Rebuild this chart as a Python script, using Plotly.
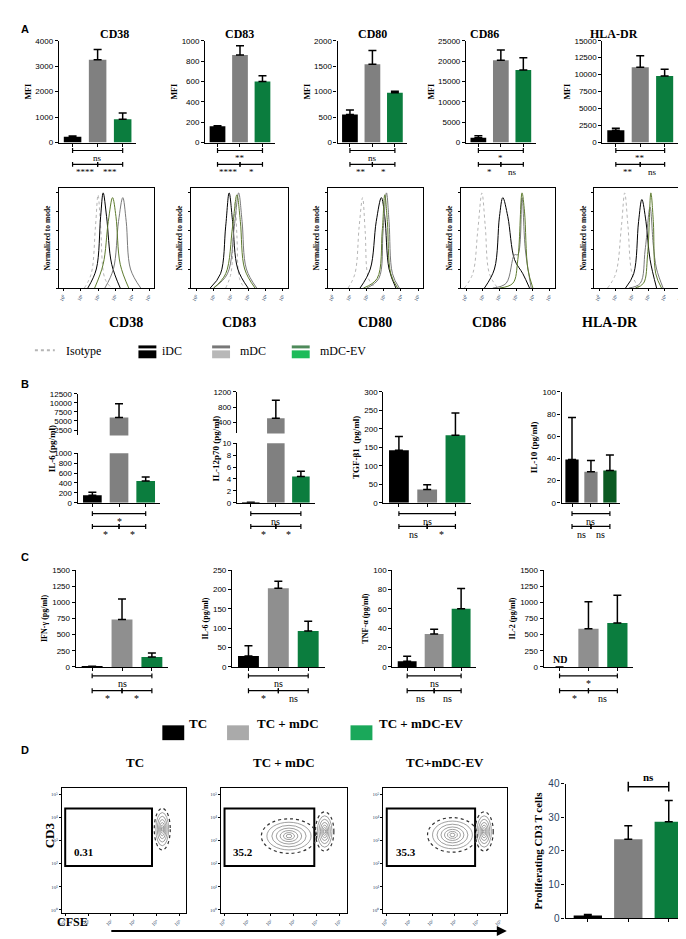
import plotly.graph_objects as go

W, H = 686, 939
FONT = "Liberation Serif"
BLACK, GRAY, GREEN = "#000000", "#808080", "#0b7d3e"
GRAYC = "#8f8f8f"

# ---------- data ----------
A_markers = ["CD38", "CD83", "CD80", "CD86", "HLA-DR"]
A_means = [[230, 3250, 920], [160, 860, 600], [550, 1540, 980], [1200, 20200, 17800], [1800, 11100, 9800]]
A_err = [[30, 400, 240], [5, 90, 55], [90, 270, 30], [500, 2500, 3000], [300, 1700, 1000]]
A_ymax = [4000, 1000, 2000, 25000, 15000]
A_dtick = [1000, 200, 500, 5000, 2500]
A_sig = [("ns", "****", "***"), ("**", "****", "*"), ("ns", "**", "*"), ("*", "*", "ns"), ("**", "**", "ns")]

B_labels = ["IL-6 (pg/ml)", "IL-12p70 (pg/ml)", "TGF-β1  (pg/ml)", "IL-10 (pg/ml)"]
B_means = [[150, 6000, 440], [0.05, 500, 4.4], [142, 36, 183], [39, 28, 29]]
B_err = [[60, 3800, 80], [0.05, 480, 0.9], [37, 13, 60], [38, 10, 14]]
B_sig = [("*", "*", "*"), ("ns", "*", "*"), ("ns", "ns", "*"), ("ns", "ns", "ns")]

C_labels = ["IFN-γ (pg/ml)", "IL-6 (pg/ml)", "TNF-α (pg/ml)", "IL-2 (pg/ml)"]
C_means = [[5, 735, 155], [28, 203, 93], [6, 34, 60], [0, 590, 680]]
C_err = [[5, 315, 60], [27, 18, 25], [5, 5, 21], [0, 420, 430]]
C_ymax = [1500, 250, 100, 1500]
C_dtick = [250, 50, 20, 250]
C_sig = [("ns", "*", "*"), ("ns", "*", "ns"), ("ns", "ns", "ns"), ("*", "*", "ns")]

D_means = [0.8, 23.5, 28.7]
D_err = [0.3, 4.0, 6.3]
D_titles = ["TC", "TC + mDC", "TC+mDC-EV"]
D_pct = ["0.31", "35.2", "35.3"]
# gate rectangles (log decades): x0, x1, y0, y1
D_gates = [(0, 3.8, 1.9, 4.4), (0, 3.9, 1.9, 4.4), (0, 3.9, 1.9, 4.4)]
# populations: centre x, centre y, half-width, half-height
D_pops = [[(4.25, 3.5, 0.35, 0.9)],
          [(2.8, 3.2, 1.2, 0.75), (4.35, 3.4, 0.4, 0.85)],
          [(2.9, 3.25, 1.1, 0.75), (4.3, 3.4, 0.4, 0.85)]]

# histograms: per marker, curves (iso, iDC, mDC, EV): x in log decades, y % of mode
HIST = {
    "CD38": [([1.2, 1.6, 1.85, 2.0, 2.15, 2.4, 2.8], [0, 15, 65, 98, 65, 10, 0]),
             ([1.4, 1.9, 2.15, 2.3, 2.5, 2.8, 3.3], [0, 20, 75, 100, 75, 25, 0]),
             ([2.4, 2.9, 3.2, 3.45, 3.65, 3.9, 4.5], [0, 20, 70, 95, 70, 20, 0]),
             ([1.8, 2.3, 2.6, 2.85, 3.05, 3.3, 3.8], [0, 25, 70, 95, 75, 25, 0])],
    "CD83": [([1.7, 2.0, 2.15, 2.25, 2.35, 2.5, 2.8], [0, 15, 60, 90, 55, 10, 0]),
             ([0.8, 1.4, 1.7, 1.9, 2.1, 2.4, 3.0], [0, 15, 65, 100, 70, 20, 0]),
             ([1.0, 1.8, 2.2, 2.45, 2.65, 2.9, 3.5], [0, 15, 65, 100, 70, 20, 0]),
             ([1.0, 1.7, 2.1, 2.35, 2.55, 2.8, 3.4], [0, 15, 65, 98, 70, 20, 0])],
    "CD80": [([0.9, 1.3, 1.55, 1.75, 1.9, 2.1, 2.5], [0, 15, 65, 95, 60, 10, 0]),
             ([1.6, 2.2, 2.55, 2.85, 3.05, 3.3, 3.7], [0, 20, 70, 95, 75, 20, 0]),
             ([2.0, 2.7, 2.95, 3.15, 3.3, 3.5, 3.9], [0, 10, 60, 100, 70, 15, 0]),
             ([1.8, 2.6, 2.9, 3.05, 3.2, 3.4, 3.8], [0, 10, 60, 98, 70, 15, 0])],
    "CD86": [([-0.1, 0.4, 0.7, 0.95, 1.15, 1.4, 1.9], [0, 15, 60, 100, 65, 15, 0]),
             ([1.1, 1.7, 2.0, 2.2, 2.5, 2.9, 3.4, 3.8], [0, 20, 75, 95, 75, 30, 15, 0]),
             ([1.6, 2.4, 2.9, 3.1, 3.35, 3.55, 3.9], [0, 5, 35, 35, 95, 40, 0]),
             ([2.0, 2.8, 3.1, 3.35, 3.5, 3.7, 4.0], [0, 5, 30, 100, 80, 20, 0])],
    "HLA-DR": [([0.5, 1.0, 1.35, 1.55, 1.75, 2.0, 2.4], [0, 15, 65, 100, 65, 15, 0]),
               ([1.6, 2.1, 2.4, 2.6, 2.85, 3.1, 3.5], [0, 15, 70, 93, 70, 30, 0]),
               ([1.8, 2.5, 2.8, 3.1, 3.3, 3.5, 3.9], [0, 5, 40, 85, 45, 20, 0]),
               ([2.2, 2.7, 2.95, 3.15, 3.3, 3.45, 3.8], [0, 5, 35, 100, 70, 15, 0])],
}
HIST_STYLE = [("#b5b5b5", "dot"), (BLACK, "solid"), ("#7a7a7a", "solid"), ("#5d7a2e", "solid")]
LOGTICKS = ["10⁰", "10¹", "10²", "10³", "10⁴", "10⁵"]

# ---------- helpers ----------
fig = go.Figure()
layout = {}
shapes, annots = [], []
n_ax = [0]


def px(x):
    return x / W


def py(y):
    return 1 - y / H


def new_axes(x0, x1, y0, y1, xr, yr, xopt=None, yopt=None):
    n_ax[0] += 1
    i = n_ax[0]
    s = "" if i == 1 else str(i)
    base = dict(showgrid=False, zeroline=False, showline=True, linecolor="black", linewidth=1.2,
                ticks="outside", ticklen=3, tickcolor="black", tickformat="d",
                tickfont=dict(family="Liberation Sans", size=8, color="black"))
    xa = dict(base, domain=[px(x0), px(x1)], range=xr, anchor="y" + s)
    ya = dict(base, domain=[py(y1), py(y0)], range=yr, anchor="x" + s)
    xa.update(xopt or {})
    ya.update(yopt or {})
    layout["xaxis" + s] = xa
    layout["yaxis" + s] = ya
    return "x" + s, "y" + s


def bars(xr_, yr_, means, errs, colors):
    fig.add_trace(go.Bar(x=[0, 1, 2], y=means, marker=dict(color=colors, line_width=0), width=0.7,
                         error_y=dict(type="data", array=errs, arrayminus=[0, 0, 0], symmetric=False,
                                      color="black", thickness=1.5, width=4),
                         xaxis=xr_, yaxis=yr_, showlegend=False))


def bar_x_opts():
    return dict(tickvals=[0, 1, 2], ticktext=["", "", ""], range=[-0.55, 2.55])


def brackets(xr_, ytop, ybot, sig, fs=10):
    def line(a, b, y, txt):
        shapes.append(dict(type="line", xref=xr_, yref="paper", x0=a, x1=b, y0=py(y), y1=py(y),
                           line=dict(color="black", width=1.2)))
        for e in (a, b):
            shapes.append(dict(type="line", xref=xr_, yref="paper", x0=e, x1=e, y0=py(y - 2.5), y1=py(y + 2.5),
                               line=dict(color="black", width=1.2)))
        annots.append(dict(x=(a + b) / 2, y=py(y + 0.5), xref=xr_, yref="paper", text=txt, showarrow=False,
                           yanchor="top", font=dict(family=FONT, size=fs, color="black")))
    line(0, 2, ytop, sig[0])
    line(0, 1, ybot, sig[1])
    line(1, 2, ybot, sig[2])


def title_font(sz=12):
    return dict(family=FONT, size=sz, color="black")


def ann(x, y, text, size=10, bold=True, **kw):
    t = "<b>%s</b>" % text if bold else text
    d = dict(x=px(x), y=py(y), xref="paper", yref="paper", text=t, showarrow=False,
             font=dict(family=FONT, size=size, color="black"))
    d.update(kw)
    annots.append(d)


for lab, (x, y) in zip("ABCD", [(8, 8), (8, 375), (8, 550), (8, 753)]):
    annots.append(dict(x=px(x), y=py(y), xref="paper", yref="paper", text="<b>%s</b>" % lab, showarrow=False,
                       font=dict(family="Liberation Sans", size=11, color="black")))

# ---------- panel A bars ----------
A_x = [(48, 126), (195, 265), (328, 398), (457, 527), (594, 670)]
for k, m in enumerate(A_markers):
    x0, x1 = A_x[k]
    xr_, yr_ = new_axes(x0, x1, 28, 131, None, [0, A_ymax[k]], bar_x_opts(),
                        dict(dtick=A_dtick[k], title=dict(text="<b>MFI</b>", font=title_font(8), standoff=2)))
    bars(xr_, yr_, A_means[k], A_err[k], [BLACK, GRAY, GREEN])
    brackets(xr_, 139, 153, A_sig[k], fs=9)
    ann((x0 + x1) / 2, 12, m, 12)

# ---------- panel A histograms ----------
Hx = [(48, 144), (181, 278), (318, 414), (452, 546), (586, 678)]
for k, m in enumerate(A_markers):
    x0, x1 = Hx[k]
    xr_, yr_ = new_axes(x0, x1, 177, 278, [-0.3, 5.3], [0, 105],
                        dict(tickvals=list(range(6)), ticktext=LOGTICKS, tickfont=dict(family=FONT, size=5),
                             tickangle=-60, ticklen=2, mirror=True),
                        dict(tickvals=[0, 20, 40, 60, 80, 100], ticktext=[""] * 6, ticklen=2, mirror=True,
                             title=dict(text="<b>Normalized to mode</b>", font=title_font(7.5), standoff=2)))
    for (xs, ys), (c, dsh) in zip(HIST[m], HIST_STYLE):
        fig.add_trace(go.Scatter(x=xs, y=ys, mode="lines", line=dict(color=c, dash=dsh, width=1, shape="spline"),
                                 xaxis=xr_, yaxis=yr_, showlegend=False))
    ann((x0 + x1) / 2, 303, m, 14)

# legend 1
shapes.append(dict(type="line", xref="paper", yref="paper", x0=px(24), x1=px(44), y0=py(341), y1=py(341),
                   line=dict(color="#b5b5b5", width=2, dash="dot")))
ann(53, 342, "Isotype", 12, bold=False, xanchor="left")
for xl, top, fill, lab, lx in [(128, BLACK, BLACK, "iDC", 150), (202, "#777777", "#b8b8b8", "mDC", 228),
                               (282, "#4e8a5a", "#1dbb5a", "mDC-EV", 308)]:
    shapes.append(dict(type="rect", xref="paper", yref="paper", x0=px(xl), x1=px(xl + 18), y0=py(339), y1=py(336),
                       fillcolor=top, line_width=0))
    shapes.append(dict(type="rect", xref="paper", yref="paper", x0=px(xl), x1=px(xl + 18), y0=py(349), y1=py(341),
                       fillcolor=fill, line_width=0))
    ann(lx, 342, lab, 12, bold=False, xanchor="left")

# ---------- panel B ----------
B_x = [(67, 150), (227, 305), (374, 462), (553, 612)]
# IL-6 broken axis
xr_, yr_ = new_axes(67, 150, 445, 495, None, [0, 1000], bar_x_opts(), dict(dtick=200))
bars(xr_, yr_, B_means[0], [B_err[0][0], 0, B_err[0][2]], [BLACK, GRAY, GREEN])
brackets(xr_, 506, 519, B_sig[0])
xr2, yr2 = new_axes(67, 150, 385, 427, None, [1000, 12500],
                    dict(tickvals=[0, 1, 2], showticklabels=False, ticks="", showline=False, range=[-0.55, 2.55]),
                    dict(tickvals=[2500, 5000, 7500, 10000, 12500]))
bars(xr2, yr2, B_means[0], B_err[0], [BLACK, GRAY, GREEN])
ann(34, 440, "IL-6 (pg/ml)", 9, textangle=-90)
# IL-12p70 broken axis
xr_, yr_ = new_axes(227, 305, 435, 495, None, [0, 10], bar_x_opts(), dict(dtick=2))
bars(xr_, yr_, B_means[1], [B_err[1][0], 0, B_err[1][2]], [BLACK, GRAY, GREEN])
brackets(xr_, 506, 519, B_sig[1])
xr2, yr2 = new_axes(227, 305, 383, 425, None, [100, 1200],
                    dict(tickvals=[0, 1, 2], showticklabels=False, ticks="", showline=False, range=[-0.55, 2.55]),
                    dict(tickvals=[400, 800, 1200]))
bars(xr2, yr2, B_means[1], B_err[1], [BLACK, GRAY, GREEN])
ann(199, 440, "IL-12p70 (pg/ml)", 9, textangle=-90)
# TGF, IL-10
for k, (ymax, dt) in zip([2, 3], [(300, 50), (100, 20)]):
    x0, x1 = B_x[k]
    xr_, yr_ = new_axes(x0, x1, 383, 495, None, [0, ymax], bar_x_opts(),
                        dict(dtick=dt, title=dict(text="<b>%s</b>" % B_labels[k], font=title_font(9), standoff=3)))
    cols = [BLACK, GRAY, GREEN] if k == 2 else [BLACK, GRAY, "#0b5a22"]
    bars(xr_, yr_, B_means[k], B_err[k], cols)
    brackets(xr_, 506, 519, B_sig[k])

# ---------- panel C ----------
C_x = [(65, 158), (222, 315), (383, 467), (535, 625)]
for k in range(4):
    x0, x1 = C_x[k]
    xr_, yr_ = new_axes(x0, x1, 563, 661, None, [0, C_ymax[k]], bar_x_opts(),
                        dict(dtick=C_dtick[k], title=dict(text="<b>%s</b>" % C_labels[k], font=title_font(8), standoff=3)))
    bars(xr_, yr_, C_means[k], C_err[k], [BLACK, GRAYC, GREEN])
    brackets(xr_, 670, 685, C_sig[k])
    if k == 3:
        annots.append(dict(x=0, y=0, xref=xr_, yref=yr_, text="<b>ND</b>", showarrow=False, yanchor="bottom",
                           font=title_font(10)))

# legend 2
for xl, col, lab, lx in [(152, BLACK, "TC", 177), (217, "#aaaaaa", "TC + mDC", 245), (341, "#1aa85a", "TC + mDC-EV", 368)]:
    shapes.append(dict(type="rect", xref="paper", yref="paper", x0=px(xl), x1=px(xl + 22), y0=py(735), y1=py(720),
                       fillcolor=col, line_width=0))
    ann(lx, 728, lab, 13, xanchor="left")

# ---------- panel D flow plots ----------
D_x = [(51, 176), (211, 337), (374, 498)]
for k in range(3):
    x0, x1 = D_x[k]
    xr_, yr_ = new_axes(x0, x1, 783, 910, [-0.15, 5.3], [-0.15, 5.3],
                        dict(tickvals=list(range(6)), ticktext=LOGTICKS, tickfont=dict(family=FONT, size=5),
                             tickangle=-45, ticklen=2, mirror=True),
                        dict(tickvals=list(range(6)), ticktext=LOGTICKS, tickfont=dict(family=FONT, size=5),
                             ticklen=2, mirror=True))
    g = D_gates[k]
    shapes.append(dict(type="rect", xref=xr_, yref=yr_, x0=g[0], x1=g[1], y0=g[2], y1=g[3],
                       line=dict(color="black", width=2)))
    for (cx, cy, rw, rh) in D_pops[k]:
        for f in (1.0, 0.8, 0.62, 0.46, 0.32, 0.2, 0.1):
            shapes.append(dict(type="circle", xref=xr_, yref=yr_, x0=cx - rw * f, x1=cx + rw * f,
                               y0=cy - rh * f, y1=cy + rh * f,
                               line=dict(color="#333333" if f > 0.9 else "#777777", width=0.7 if f < 1 else 1.2,
                                         dash="dot" if f == 1.0 else "solid")))
    annots.append(dict(x=0.3, y=2.5, xref=xr_, yref=yr_, text="<b>%s</b>" % D_pct[k], showarrow=False,
                       xanchor="left", font=title_font(11)))
    ann((x0 + x1) / 2, 767, D_titles[k], 13)
ann(30, 846, "CD3", 13, textangle=-90)
ann(44, 928, "CFSE", 12, xanchor="left")
annots.append(dict(x=px(498), y=py(928), ax=-397, ay=0, xref="paper", yref="paper", axref="pixel",
                   ayref="pixel", text="", showarrow=True, arrowhead=2, arrowsize=1, arrowwidth=2,
                   arrowcolor="black"))

# D bar chart
xr_, yr_ = new_axes(557, 683, 779, 915, None, [0, 40], bar_x_opts(),
                    dict(dtick=10, tickfont=dict(family="Liberation Sans", size=10),
                         title=dict(text="<b>Proliferating CD3 T cells</b>", font=title_font(11), standoff=3)))
bars(xr_, yr_, D_means, D_err, [BLACK, GRAY, GREEN])
shapes.append(dict(type="line", xref=xr_, yref="paper", x0=1, x1=2, y0=py(782), y1=py(782),
                   line=dict(color="black", width=1.5)))
for e in (1, 2):
    shapes.append(dict(type="line", xref=xr_, yref="paper", x0=e, x1=e, y0=py(777), y1=py(787),
                       line=dict(color="black", width=1.5)))
annots.append(dict(x=1.5, y=py(780), xref=xr_, yref="paper", text="<b>ns</b>", showarrow=False, yanchor="bottom",
                   font=title_font(11)))

layout.update(dict(width=W, height=H, margin=dict(l=0, r=0, t=0, b=0), plot_bgcolor="white",
                   paper_bgcolor="white", shapes=shapes, annotations=annots, bargap=0.3, showlegend=False))
fig.update_layout(**layout)
fig.write_html("out.html")
